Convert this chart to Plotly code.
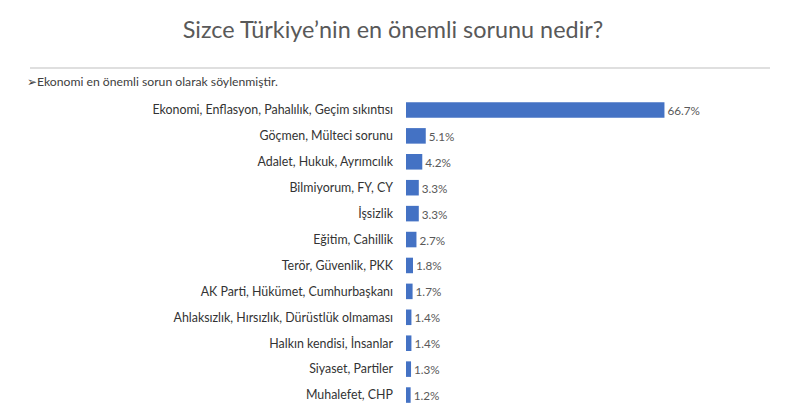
import plotly.graph_objects as go

categories = [
    "Ekonomi, Enflasyon, Pahalılık, Geçim sıkıntısı",
    "Göçmen, Mülteci sorunu",
    "Adalet, Hukuk, Ayrımcılık",
    "Bilmiyorum, FY, CY",
    "İşsizlik",
    "Eğitim, Cahillik",
    "Terör, Güvenlik, PKK",
    "AK Parti, Hükümet, Cumhurbaşkanı",
    "Ahlaksızlık, Hırsızlık, Dürüstlük olmaması",
    "Halkın kendisi, İnsanlar",
    "Siyaset, Partiler",
    "Muhalefet, CHP",
]
values = [66.7, 5.1, 4.2, 3.3, 3.3, 2.7, 1.8, 1.7, 1.4, 1.4, 1.3, 1.2]
value_labels = [f"{v:.1f}%" for v in values]

title_text = "Sizce Türkiye’nin en önemli sorunu nedir?"
subtitle_text = "➢Ekonomi en önemli sorun olarak söylenmiştir."

PL, PR = 398, 708   # plot area (figure px)
PT, PB = 89, 400

fig = go.Figure(go.Bar(
    x=values, y=categories, orientation="h",
    marker=dict(color="#4472C4", line=dict(width=0)),
    width=0.6,
    text=value_labels, textposition="outside",
    textfont=dict(family="Lato", size=11.7, color="#595959"),
    cliponaxis=False,
))

W, H = 800, 409
fig.update_layout(
    width=W, height=H,
    margin=dict(l=PL, r=W - PR, t=PT, b=H - PB, autoexpand=False),
    paper_bgcolor="white", plot_bgcolor="white",
    showlegend=False,
    font=dict(family="Lato", color="#404040"),
    title=dict(text=title_text, x=385 / W, xanchor="center", y=1 - 22 / H, yanchor="middle",
               font=dict(family="Lato", size=23.4, color="#595959")),
    xaxis=dict(range=[0, 80], visible=False, fixedrange=True),
    yaxis=dict(autorange="reversed", showline=False, showgrid=False, ticks="",
               automargin=False,
               ticklabelstandoff=12, tickfont=dict(family="Lato", size=12.4, color="#333333")),
    shapes=[dict(type="line", xref="paper", yref="paper",
                 x0=(22 - PL) / (PR - PL), x1=(762 - PL) / (PR - PL),
                 y0=1 + (PT - 60) / (PB - PT), y1=1 + (PT - 60) / (PB - PT),
                 line=dict(color="#BFBFBF", width=1))],
    annotations=[dict(text=subtitle_text, xref="paper", yref="paper",
                      x=(17 - PL) / (PR - PL), y=1 + (PT - 73) / (PB - PT),
                      xanchor="left", yanchor="middle",
                      showarrow=False, font=dict(family="Lato", size=12.2, color="#404040"))],
)

fig.write_html("out.html")
